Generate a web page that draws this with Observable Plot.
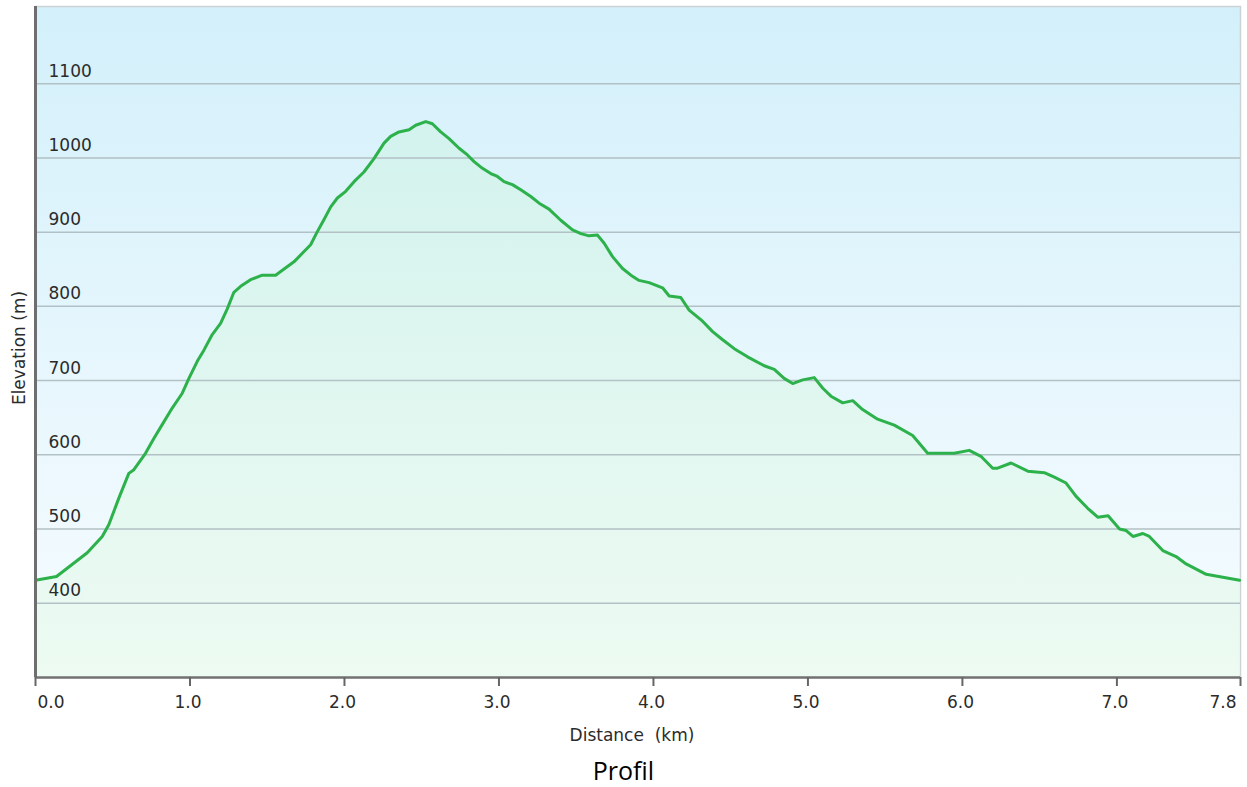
<!DOCTYPE html>
<html>
<head>
<meta charset="utf-8">
<script src="https://cdn.jsdelivr.net/npm/d3@7"></script>
<script src="https://cdn.jsdelivr.net/npm/@observablehq/plot@0.6"></script>
<style>
  html, body { margin: 0; padding: 0; background: #ffffff; overflow: hidden; }
  #chart svg { display: block; }
  #caption { font-family: "Open Sans", sans-serif; font-size: 25px; line-height: 32px; height: 32px; margin-top: 4px; text-align: center; color: #000; }
</style>
</head>
<body>
<div id="chart"></div>
<div id="caption">Profil</div>
<script>
// Distance along the route (km)
const distanceKm = [
  0.000, 0.136, 0.335, 0.432, 0.475, 0.540, 0.604, 0.637, 0.712, 0.766,
  0.821, 0.885, 0.950, 0.993, 1.047, 1.090, 1.144, 1.198, 1.242, 1.284,
  1.328, 1.392, 1.468, 1.554, 1.673, 1.781, 1.820, 1.865, 1.911, 1.954,
  2.008, 2.062, 2.126, 2.191, 2.256, 2.299, 2.353, 2.418, 2.461, 2.526,
  2.569, 2.623, 2.677, 2.742, 2.796, 2.839, 2.893, 2.947, 2.990, 3.033,
  3.087, 3.141, 3.206, 3.260, 3.324, 3.400, 3.476, 3.530, 3.583, 3.638,
  3.681, 3.735, 3.800, 3.854, 3.907, 3.972, 4.059, 4.102, 4.177, 4.231,
  4.318, 4.383, 4.448, 4.523, 4.609, 4.717, 4.782, 4.846, 4.901, 4.966,
  5.041, 5.095, 5.149, 5.225, 5.290, 5.354, 5.451, 5.559, 5.678, 5.775,
  5.947, 6.044, 6.120, 6.196, 6.228, 6.315, 6.423, 6.530, 6.595, 6.671,
  6.736, 6.811, 6.876, 6.943, 7.017, 7.060, 7.104, 7.168, 7.210, 7.297,
  7.383, 7.448, 7.578, 7.794
];
// Elevation (m)
const elevationM = [
  431, 436, 468, 490, 506, 542, 575, 580, 602, 622,
  641, 663, 683, 703, 726, 741, 762, 777, 797, 819,
  827, 836, 842, 842, 860, 883, 899, 916, 934, 946,
  955, 968, 981, 999, 1020, 1029, 1035, 1038, 1044, 1049,
  1046, 1035, 1026, 1013, 1004, 995, 986, 979, 975, 968,
  964, 957, 948, 939, 931, 916, 903, 898, 895, 896,
  885, 867, 851, 842, 835, 832, 825, 814, 812, 795,
  780, 766, 755, 743, 732, 720, 715, 703, 696, 701,
  704, 690, 679, 670, 673, 661, 648, 640, 626, 602,
  602, 606, 598, 582, 582, 589, 578, 576, 570, 562,
  544, 528, 516, 518, 500, 498, 490, 494, 490, 471,
  463, 453, 439, 431
];
const yTicks = [400, 500, 600, 700, 800, 900, 1000, 1100];
const xTicks = [0, 1, 2, 3, 4, 5, 6, 7, 7.8];
const xTickLabels = ["0.0", "1.0", "2.0", "3.0", "4.0", "5.0", "6.0", "7.0", "7.8"];
const xTitle = "Distance\u00a0 (km)";
const yTitle = "Elevation (m)";

const profile = distanceKm.map((d, i) => ({d, e: elevationM[i]}));
const xLabelRows = xTicks.map((t, i) => ({t, label: xTickLabels[i]}));
const firstX = xLabelRows.slice(0, 1);
const midX = xLabelRows.slice(1, -1);
const lastX = xLabelRows.slice(-1);
const yMin = 300;

const plot = Plot.plot({
  width: 1247,
  height: 750,
  marginLeft: 35,
  marginRight: 7,
  marginTop: 6,
  marginBottom: 73,
  x: {domain: [0, 7.8]},
  y: {domain: [yMin, 1204], axis: null},
  style: {fontFamily: "DejaVu Sans", fontSize: "17px", color: "#2b2b2b", background: "transparent"},
  marks: [
    Plot.frame({fill: "url(#bgGrad)", stroke: "#cdd3d5", strokeWidth: 1.5}),
    Plot.areaY(profile, {x: "d", y1: yMin, y2: "e", fill: "#b8fba7", fillOpacity: 0.15}),
    Plot.ruleY(yTicks, {stroke: "#b2c1c5", strokeWidth: 1.5}),
    Plot.text(yTicks, {y: d => d, text: d => String(d), frameAnchor: "left", textAnchor: "start", lineAnchor: "bottom", dx: 13, dy: -7, fill: "#2b2b2b"}),
    Plot.line(profile, {x: "d", y: "e", stroke: "#2cb14b", strokeWidth: 3, strokeLinejoin: "round", strokeLinecap: "round"}),
    Plot.ruleY([yMin], {stroke: "#737373", strokeWidth: 2.5}),
    Plot.ruleX([0], {stroke: "#6e6e6e", strokeWidth: 3}),
    Plot.axisX(xTicks, {tickSize: 9, stroke: "#666", strokeWidth: 2, tickFormat: () => "", label: null}),
    Plot.text(firstX, {x: "t", text: "label", frameAnchor: "bottom", textAnchor: "start", lineAnchor: "bottom", dy: 30, dx: 2, fill: "#2b2b2b"}),
    Plot.text(midX, {x: "t", text: "label", frameAnchor: "bottom", textAnchor: "middle", lineAnchor: "bottom", dy: 30, dx: -2, fill: "#2b2b2b"}),
    Plot.text(lastX, {x: "t", text: "label", frameAnchor: "bottom", textAnchor: "end", lineAnchor: "bottom", dy: 30, dx: -4, fill: "#2b2b2b"}),
    Plot.text([xTitle], {text: d => d, frameAnchor: "bottom", textAnchor: "middle", lineAnchor: "bottom", dy: 63, dx: -6, fill: "#2b2b2b"}),
    Plot.text([yTitle], {text: d => d, frameAnchor: "left", rotate: -90, textAnchor: "middle", lineAnchor: "middle", dx: -16, dy: 6, fill: "#2b2b2b"})
  ]
});

const defs = d3.select(plot).insert("defs", ":first-child");
const grad = defs.append("linearGradient").attr("id", "bgGrad").attr("x1", 0).attr("y1", 0).attr("x2", 0).attr("y2", 1);
grad.append("stop").attr("offset", "0%").attr("stop-color", "#d3f0fa");
grad.append("stop").attr("offset", "100%").attr("stop-color", "#f7fcff");

document.getElementById("chart").appendChild(plot);
</script>
</body>
</html>
